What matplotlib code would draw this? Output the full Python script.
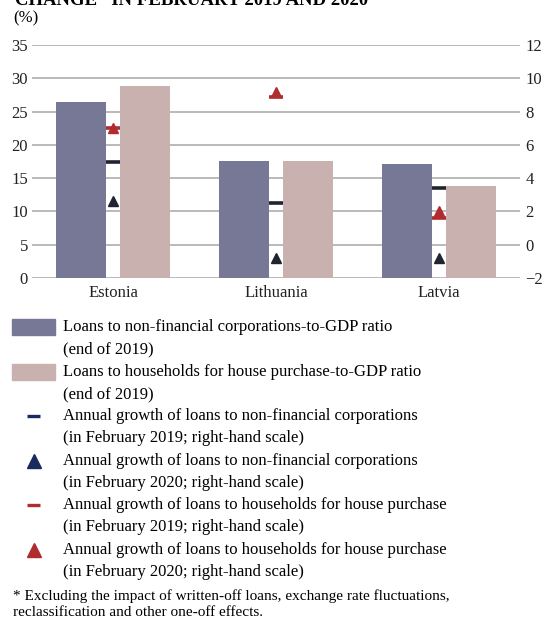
import matplotlib
matplotlib.use("Agg")
import matplotlib.pyplot as plt
from matplotlib.patches import Rectangle
from matplotlib.lines import Line2D
import numpy as np

plt.rcParams['font.family'] = ['Liberation Serif', 'DejaVu Serif']

# Data
countries = ['Estonia', 'Lithuania', 'Latvia']
nfc_to_gdp = [26.4, 17.6, 17.1]          # end of 2019, left scale
hh_to_gdp = [28.8, 17.6, 13.8]           # end of 2019, left scale
nfc_growth_2019 = [5.0, 2.5, 3.4]        # right scale
nfc_growth_2020 = [2.6, -0.8, -0.8]      # right scale
hh_growth_2019 = [7.0, 8.9, 1.6]         # right scale
hh_growth_2020 = [7.0, 9.2, 2.0]         # right scale

left_ticks = [0, 5, 10, 15, 20, 25, 30, 35]
right_ticks = [-2, 0, 2, 4, 6, 8, 10, 12]

legend_labels = [
    ('Loans to non-financial corporations-to-GDP ratio', '(end of 2019)'),
    ('Loans to households for house purchase-to-GDP ratio', '(end of 2019)'),
    ('Annual growth of loans to non-financial corporations', '(in February 2019; right-hand scale)'),
    ('Annual growth of loans to non-financial corporations', '(in February 2020; right-hand scale)'),
    ('Annual growth of loans to households for house purchase', '(in February 2019; right-hand scale)'),
    ('Annual growth of loans to households for house purchase', '(in February 2020; right-hand scale)'),
]

BLUE = '#777896'
PINK = '#c9b1b0'
DARK = '#202330'
NAVY = '#1b2a5e'
RED = '#b02c2f'
GRID = '#b4b4b4'

W, H = 545, 620
fig = plt.figure(figsize=(W / 100, H / 100), dpi=100)

def fx(px):
    return px / W

def fy(py):
    return 1 - py / H

ax = fig.add_axes([fx(32), fy(278), fx(520) - fx(32), fy(45) - fy(278)])
ax2 = ax.twinx()

x = np.arange(len(countries))
bw = 0.308
off = 0.197
ax.bar(x - off, nfc_to_gdp, bw, color=BLUE, zorder=2)
ax.bar(x + off, hh_to_gdp, bw, color=PINK, zorder=2)

ax.set_xlim(-0.5, 2.5)
ax.set_ylim(0, 35)
ax.set_yticks(left_ticks)
ax.grid(axis='y', color=GRID, linewidth=1.3, zorder=0)
ax.set_axisbelow(True)
ax.set_xticks(x)
ax.set_xticklabels(countries)
ax.tick_params(axis='both', length=0, labelsize=12, labelcolor='#222222')
ax.tick_params(axis='y', pad=3)
ax.tick_params(axis='x', pad=5)

ax2.set_ylim(-2, 12)
ax2.set_yticks(right_ticks)
ax2.set_yticklabels([str(t).replace('-', '\u2212') for t in right_ticks])
ax2.tick_params(axis='y', length=0, labelsize=12, labelcolor='#222222', pad=4)

for a in (ax, ax2):
    for s in a.spines.values():
        s.set_visible(False)

ax2.plot(x, nfc_growth_2019, ls='none', marker='_', ms=10, mew=2.6, color=DARK, zorder=3)
ax2.plot(x, nfc_growth_2020, ls='none', marker='^', ms=7.5, color=DARK, zorder=3)
ax2.plot(x, hh_growth_2019, ls='none', marker='_', ms=10, mew=2.6, color=RED, zorder=3)
ax2.plot(x, hh_growth_2020, ls='none', marker='^', ms=7.5, color=RED, zorder=3)

# Title (partly above the top edge) and unit
fig.text(fx(15), fy(5), 'CHANGE* IN FEBRUARY 2019 AND 2020', fontsize=13.5,
         fontweight='bold', ha='left', va='baseline')
fig.text(fx(13), fy(18), '(%)', fontsize=12, ha='left', va='center')

# Legend
entry_y = [327, 372, 416, 461, 505, 550]
fs = 12
for i, (l1, l2) in enumerate(legend_labels):
    y0 = entry_y[i]
    if i == 0 or i == 1:
        color = BLUE if i == 0 else PINK
        fig.add_artist(Rectangle((fx(12), fy(y0 + 8)), fx(55) - fx(12), fy(y0 - 8) - fy(y0 + 8),
                                 transform=fig.transFigure, color=color))
    elif i in (2, 4):
        color = NAVY if i == 2 else RED
        fig.add_artist(Line2D([fx(27), fx(40)], [fy(y0), fy(y0)], transform=fig.transFigure,
                              color=color, linewidth=2.4, solid_capstyle='butt'))
    else:
        color = NAVY if i == 3 else RED
        fig.add_artist(Line2D([fx(33.5)], [fy(y0)], transform=fig.transFigure, color=color,
                              marker='^', ms=9.5, ls='none'))
    fig.text(fx(63), fy(y0), l1, fontsize=fs, ha='left', va='center')
    fig.text(fx(63), fy(y0 + 22), l2, fontsize=fs, ha='left', va='center')

# Footnote
fig.text(fx(13), fy(596), '* Excluding the impact of written-off loans, exchange rate fluctuations,',
         fontsize=11, ha='left', va='center')
fig.text(fx(13), fy(613), 'reclassification and other one-off effects.',
         fontsize=11, ha='left', va='center')

fig.savefig('out.png', dpi=100)
